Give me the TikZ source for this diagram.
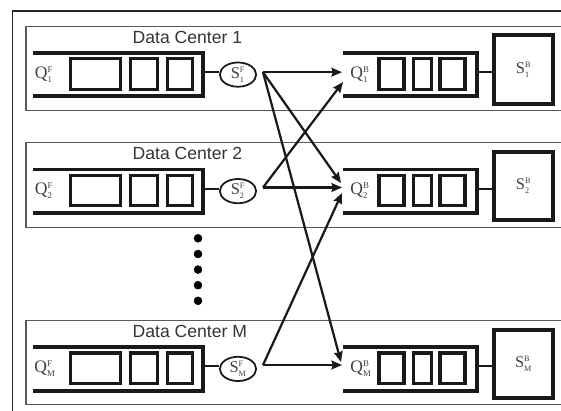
\documentclass[tikz,border=0pt]{standalone}
\usepackage{fontspec}
\setmainfont{Liberation Serif}
\newfontfamily\dcfont{Liberation Sans}
\usepackage{tikz}
\usetikzlibrary{arrows.meta,shapes.geometric}
\pgfdeclarelayer{edgelayer}
\pgfdeclarelayer{nodelayer}
\pgfsetlayers{edgelayer,nodelayer,main}
\tikzstyle{none} = [inner sep=0pt, minimum size=0pt]
\tikzstyle{Outer Frame}=[-, draw=black!85, line width=1pt]
\tikzstyle{Center Box}=[-, draw=black!65, line width=0.9pt]
\tikzstyle{Title}=[anchor=west, inner sep=0pt, font=\dcfont\fontsize{15}{18}\selectfont, text=black!80]
\tikzstyle{Label}=[inner sep=0pt, font=\fontsize{15}{17}\selectfont, text=black!75]
\tikzstyle{Rail}=[-, draw=black!90, line width=3.4pt]
\tikzstyle{Slot}=[shape=rectangle, draw=black!90, line width=2.8pt, minimum height=26.1pt, inner sep=0pt]
\tikzstyle{Slot L}=[style=Slot, minimum width=42.3pt]
\tikzstyle{Slot M}=[style=Slot, minimum width=22.5pt]
\tikzstyle{Slot S}=[style=Slot, minimum width=21.5pt]
\tikzstyle{Slot N}=[style=Slot, minimum width=15pt]
\tikzstyle{Front Server}=[shape=ellipse, draw=black!90, line width=1.5pt, minimum width=31pt, minimum height=20.7pt, inner sep=0pt, font=\fontsize{14}{16}\selectfont, text=black!75]
\tikzstyle{Back Server}=[shape=rectangle, draw=black!90, line width=3.4pt, minimum width=49.7pt, minimum height=58.5pt, inner sep=0pt, font=\fontsize{14}{16}\selectfont, text=black!75]
\tikzstyle{Link}=[-, draw=black!90, line width=1.7pt]
\tikzstyle{Route}=[-{Stealth[length=9pt, width=7.5pt, inset=1.2pt]}, draw=black!90, line width=1.9pt]
\tikzstyle{Filled Dot}=[fill=black, draw=black, shape=circle, inner sep=0pt, minimum size=6.8pt]

\begin{document}
\begin{tikzpicture}[x=0.03cm, y=-0.03cm]
	\useasboundingbox (0,0) rectangle (561,410);
	\begin{pgfonlayer}{nodelayer}
		% outer frame
		\node [style=none] (fr0) at (12.7, 412) {};
		\node [style=none] (fr1) at (12.7, 11) {};
		\node [style=none] (fr2) at (563, 11) {};
		% data center 1
		\node [style=none] (b1a) at (563, 26.1) {};
		\node [style=none] (b1b) at (26, 26.1) {};
		\node [style=none] (b1c) at (26, 110.8) {};
		\node [style=none] (b1d) at (563, 110.8) {};
		\node [style=Title] (t1) at (132.5, 37) {Data Center 1};
		\node [style=Label] (qf1) at (44, 74.3) {$\mathrm{Q}^{\scriptscriptstyle\mathrm{F}}_{\scriptscriptstyle\mathrm{1}}$};
		\node [style=none] (r1a) at (33, 53) {};
		\node [style=none] (r1b) at (202.7, 53) {};
		\node [style=none] (r1c) at (202.7, 96.2) {};
		\node [style=none] (r1d) at (33, 96.2) {};
		\node [style=Slot L] (f1x) at (95.5, 74) {};
		\node [style=Slot M] (f1y) at (144, 74) {};
		\node [style=Slot S] (f1z) at (180, 74) {};
		\node [style=none] (j1) at (202.7, 72) {};
		\node [style=Front Server] (sf1) at (238, 74.6) {$\mathrm{S}^{\scriptscriptstyle\mathrm{F}}_{\scriptscriptstyle\mathrm{1}}$};
		\node [style=none] (o1) at (263, 72.2) {};
		\node [style=none] (p1a) at (342.7, 53) {};
		\node [style=none] (p1b) at (476.7, 53) {};
		\node [style=none] (p1c) at (476.7, 96.2) {};
		\node [style=none] (p1d) at (342.7, 96.2) {};
		\node [style=Label] (qb1) at (360, 74.3) {$\mathrm{Q}^{\scriptscriptstyle\mathrm{B}}_{\scriptscriptstyle\mathrm{1}}$};
		\node [style=Slot S] (g1x) at (391.5, 74) {};
		\node [style=Slot N] (g1y) at (422.5, 74) {};
		\node [style=Slot S] (g1z) at (452.5, 74) {};
		\node [style=none] (k1) at (476.7, 72) {};
		\node [style=Back Server] (sb1) at (523.5, 69.5) {$\mathrm{S}^{\scriptscriptstyle\mathrm{B}}_{\scriptscriptstyle\mathrm{1}}$};
		\node [style=none] (i1) at (342, 72.2) {};
		\node [style=none] (i1s) at (343, 82) {};
		% data center 2
		\node [style=none] (b2a) at (563, 142.6) {};
		\node [style=none] (b2b) at (26, 142.6) {};
		\node [style=none] (b2c) at (26, 227.3) {};
		\node [style=none] (b2d) at (563, 227.3) {};
		\node [style=Title] (t2) at (132.5, 153.5) {Data Center 2};
		\node [style=Label] (qf2) at (44, 190.8) {$\mathrm{Q}^{\scriptscriptstyle\mathrm{F}}_{\scriptscriptstyle\mathrm{2}}$};
		\node [style=none] (r2a) at (33, 169.5) {};
		\node [style=none] (r2b) at (202.7, 169.5) {};
		\node [style=none] (r2c) at (202.7, 212.7) {};
		\node [style=none] (r2d) at (33, 212.7) {};
		\node [style=Slot L] (f2x) at (95.5, 190.5) {};
		\node [style=Slot M] (f2y) at (144, 190.5) {};
		\node [style=Slot S] (f2z) at (180, 190.5) {};
		\node [style=none] (j2) at (202.7, 188.5) {};
		\node [style=Front Server] (sf2) at (238, 191.1) {$\mathrm{S}^{\scriptscriptstyle\mathrm{F}}_{\scriptscriptstyle\mathrm{2}}$};
		\node [style=none] (o2) at (263, 187.5) {};
		\node [style=none] (p2a) at (342.7, 169.5) {};
		\node [style=none] (p2b) at (476.7, 169.5) {};
		\node [style=none] (p2c) at (476.7, 212.7) {};
		\node [style=none] (p2d) at (342.7, 212.7) {};
		\node [style=Label] (qb2) at (360, 190.8) {$\mathrm{Q}^{\scriptscriptstyle\mathrm{B}}_{\scriptscriptstyle\mathrm{2}}$};
		\node [style=Slot S] (g2x) at (391.5, 190.5) {};
		\node [style=Slot N] (g2y) at (422.5, 190.5) {};
		\node [style=Slot S] (g2z) at (452.5, 190.5) {};
		\node [style=none] (k2) at (476.7, 188.5) {};
		\node [style=Back Server] (sb2) at (523.5, 186) {$\mathrm{S}^{\scriptscriptstyle\mathrm{B}}_{\scriptscriptstyle\mathrm{2}}$};
		\node [style=none] (i2) at (342, 187.5) {};
		\node [style=none] (i2t) at (341, 183) {};
		\node [style=none] (i2b) at (342, 193) {};
		% the dots between 2 and M
		\node [style=Filled Dot] (d1) at (198, 238.3) {};
		\node [style=Filled Dot] (d2) at (198, 254) {};
		\node [style=Filled Dot] (d3) at (198, 269.6) {};
		\node [style=Filled Dot] (d4) at (198, 285.2) {};
		\node [style=Filled Dot] (d5) at (198, 300.8) {};
		% data center M
		\node [style=none] (bMa) at (563, 320.4) {};
		\node [style=none] (bMb) at (26, 320.4) {};
		\node [style=none] (bMc) at (26, 404.5) {};
		\node [style=none] (bMd) at (563, 404.5) {};
		\node [style=Title] (tM) at (132.5, 331.3) {Data Center M};
		\node [style=Label] (qfM) at (45, 368.6) {$\mathrm{Q}^{\scriptscriptstyle\mathrm{F}}_{\scriptscriptstyle\mathrm{M}}$};
		\node [style=none] (rMa) at (33, 347.3) {};
		\node [style=none] (rMb) at (202.7, 347.3) {};
		\node [style=none] (rMc) at (202.7, 390.5) {};
		\node [style=none] (rMd) at (33, 390.5) {};
		\node [style=Slot L] (fMx) at (95.5, 368.3) {};
		\node [style=Slot M] (fMy) at (144, 368.3) {};
		\node [style=Slot S] (fMz) at (180, 368.3) {};
		\node [style=none] (jM) at (202.7, 366.3) {};
		\node [style=Front Server] (sfM) at (238, 368.9) {$\mathrm{S}^{\scriptscriptstyle\mathrm{F}}_{\scriptscriptstyle\mathrm{M}}$};
		\node [style=none] (oM) at (263, 365) {};
		\node [style=none] (pMa) at (342.7, 347.3) {};
		\node [style=none] (pMb) at (476.7, 347.3) {};
		\node [style=none] (pMc) at (476.7, 390.5) {};
		\node [style=none] (pMd) at (342.7, 390.5) {};
		\node [style=Label] (qbM) at (361, 368.6) {$\mathrm{Q}^{\scriptscriptstyle\mathrm{B}}_{\scriptscriptstyle\mathrm{M}}$};
		\node [style=Slot S] (gMx) at (391.5, 368.3) {};
		\node [style=Slot N] (gMy) at (422.5, 368.3) {};
		\node [style=Slot S] (gMz) at (452.5, 368.3) {};
		\node [style=none] (kM) at (476.7, 366.3) {};
		\node [style=Back Server] (sbM) at (523.5, 363.8) {$\mathrm{S}^{\scriptscriptstyle\mathrm{B}}_{\scriptscriptstyle\mathrm{M}}$};
		\node [style=none] (iM) at (342, 365) {};
		\node [style=none] (iMt) at (341, 362) {};
	\end{pgfonlayer}
	\begin{pgfonlayer}{edgelayer}
		\draw [style=Outer Frame] (fr0.center) to (fr1.center) to (fr2.center);
		\draw [style=Center Box] (b1a.center) to (b1b.center) to (b1c.center) to (b1d.center);
		\draw [style=Center Box] (b2a.center) to (b2b.center) to (b2c.center) to (b2d.center);
		\draw [style=Center Box] (bMa.center) to (bMb.center) to (bMc.center) to (bMd.center);
		% queues
		\draw [style=Rail] (r1a.center) to (r1b.center) to (r1c.center) to (r1d.center);
		\draw [style=Rail] (p1a.center) to (p1b.center) to (p1c.center) to (p1d.center);
		\draw [style=Rail] (r2a.center) to (r2b.center) to (r2c.center) to (r2d.center);
		\draw [style=Rail] (p2a.center) to (p2b.center) to (p2c.center) to (p2d.center);
		\draw [style=Rail] (rMa.center) to (rMb.center) to (rMc.center) to (rMd.center);
		\draw [style=Rail] (pMa.center) to (pMb.center) to (pMc.center) to (pMd.center);
		\draw [style=Link] (j1.center) to (j1.center -| sf1.west);
		\draw [style=Link] (k1.center) to (k1.center -| sb1.west);
		\draw [style=Link] (j2.center) to (j2.center -| sf2.west);
		\draw [style=Link] (k2.center) to (k2.center -| sb2.west);
		\draw [style=Link] (jM.center) to (jM.center -| sfM.west);
		\draw [style=Link] (kM.center) to (kM.center -| sbM.west);
		% dispatching
		\draw [style=Route] (o1.center) to (i1.center);
		\draw [style=Route] (o1.center) to (i2t.center);
		\draw [style=Route] (o1.center) to (iMt.center);
		\draw [style=Route] (o2.center) to (i2.center);
		\draw [style=Route] (o2.center) to (i1s.center);
		\draw [style=Route] (oM.center) to (iM.center);
		\draw [style=Route] (oM.center) to (i2b.center);
	\end{pgfonlayer}
\end{tikzpicture}
\end{document}
